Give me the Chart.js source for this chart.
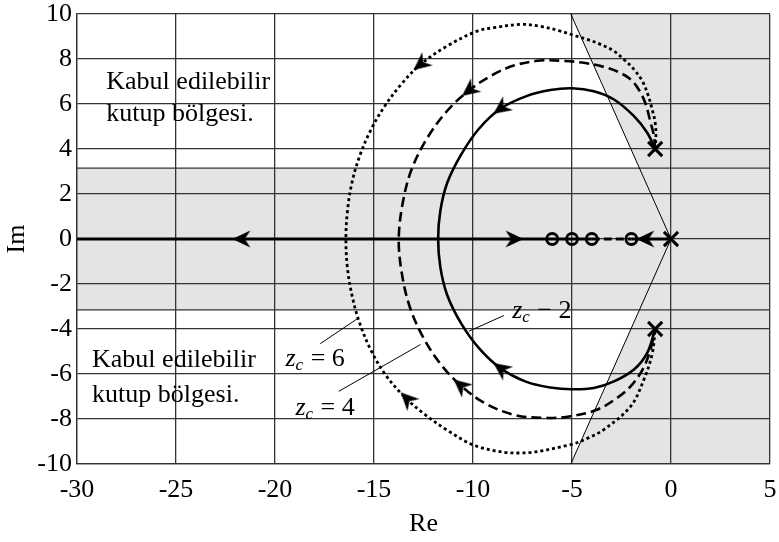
<!DOCTYPE html>
<html>
<head>
<meta charset="utf-8">
<script src="https://cdn.jsdelivr.net/npm/chart.js@4.4.1/dist/chart.umd.min.js"></script>
<style>
  html, body { margin: 0; padding: 0; background: #fff; }
</style>
</head>
<body>
<canvas id="kokYeri" width="779" height="542"></canvas>
<script>
// eksenler
const xTikler = [-30, -25, -20, -15, -10, -5, 0, 5];
const yTikler = [-10, -8, -6, -4, -2, 0, 2, 4, 6, 8, 10];

// kabul edilemez bolge (gri) ve sinir cizgileri
const bantIm = 3.15;
const golgeRe = [-30, -1.594, -5.06, 5, 5, -5.06, -1.594, -30];
const golgeIm = [3.15, 3.15, 10, 10, -10, -10, -3.15, -3.15];
const caprazRe = [-5.06, 0, -5.06];
const caprazIm = [10, 0, -10];

// kutuplar ve sifirlar
const kutupRe = [0, -0.8, -0.8];
const kutupIm = [0, 4, -4];
const sifirRe = [-6, -5, -4, -2];
const sifirIm = [0, 0, 0, 0];

// zc = 2 (duz)
const zc2Re = [-0.8, -1.2, -1.87, -2.88, -3.9, -5.0, -6.1, -7.3, -8.6, -9.7, -10.6, -11.3, -11.65, -11.76,
               -11.65, -11.3, -10.6, -9.7, -8.6, -7.3, -6.1, -5.0, -3.9, -2.88, -1.87, -1.2, -0.8];
const zc2Im = [4.0, 4.72, 5.46, 6.2, 6.57, 6.7, 6.62, 6.35, 5.8, 4.9, 3.75, 2.5, 1.25, 0,
               -1.25, -2.5, -3.75, -4.85, -5.75, -6.35, -6.6, -6.68, -6.62, -6.33, -5.8, -5.06, -4.0];

// zc = 4 (kesikli)
const zc4Re = [-0.8, -0.86, -1.03, -1.28, -1.6, -2.05, -2.65, -3.4, -4.4, -5.5, -6.6, -7.9, -9.1, -10.2, -11.3, -12.3, -13.1, -13.55, -13.75,
               -13.6, -13.2, -12.5, -11.6, -10.63, -9.4, -7.9, -6.4, -5.07, -3.72, -2.7, -2.04, -1.4, -1.0, -0.8];
const zc4Im = [4.0, 4.57, 5.17, 6.0, 6.6, 7.1, 7.42, 7.65, 7.83, 7.92, 7.93, 7.72, 7.25, 6.6, 5.7, 4.5, 3.1, 1.6, 0,
               -1.5, -3.0, -4.4, -5.6, -6.5, -7.3, -7.82, -7.95, -7.88, -7.58, -7.05, -6.55, -5.75, -4.8, -4.0];

// zc = 6 (noktali)
const zc6Re = [-0.8, -0.76, -0.8, -0.95, -1.17, -1.45, -1.87, -2.38, -2.88, -3.56, -4.23, -4.91, -5.58, -6.6, -7.6, -8.95, -9.79,
               -11.3, -12.65, -13.63, -14.48, -15.18, -15.73, -16.12, -16.34, -16.42,
               -16.34, -16.1, -15.72, -15.15, -14.45, -13.5, -12.5, -11.3, -9.79, -7.6, -5.07, -4.2, -3.39, -2.04, -1.37, -0.94, -0.8];
const zc6Im = [4.0, 4.57, 5.17, 5.76, 6.43, 7.02, 7.54, 7.98, 8.35, 8.65, 8.87, 9.05, 9.24, 9.45, 9.54, 9.39, 9.24,
               8.58, 7.76, 6.87, 5.88, 4.81, 3.67, 2.48, 1.25, 0,
               -1.3, -2.55, -3.75, -4.95, -6.0, -6.98, -7.75, -8.5, -9.22, -9.51, -9.14, -8.85, -8.47, -7.44, -6.25, -5.06, -4.0];

// gercek eksen uzerindeki dallar
const eksenDuzRe = [-30, -4];
const eksenKesikRe = [-4, -2];
const eksenSagRe = [-2, 0];

// ok uclari (aci: 0 yukari, 90 sag, 180 asagi, 270 sol)
const okRe = [-21.7, -7.9, -1.3, -8.6, -8.6, -10.2, -10.63, -12.65, -13.33];
const okIm = [0, 0, 0, 5.8, -5.75, 6.6, -6.5, 7.76, -7.1];
const okAci = [270, 90, 270, 234, 306, 232, 310, 231, 315];

const nokta = (xs, ys) => xs.map((v, i) => ({x: v, y: ys[i]}));
const yatay = (xs, yv) => xs.map(v => ({x: v, y: yv}));

function okUcu() {
  const c = document.createElement('canvas');
  c.width = 20; c.height = 20;
  const g = c.getContext('2d');
  g.fillStyle = '#000';
  g.beginPath();
  g.moveTo(10, 1); g.lineTo(18.5, 19); g.lineTo(10, 13.5); g.lineTo(1.5, 19);
  g.closePath();
  g.fill();
  return c;
}

const SERIF = '"Liberation Serif", "Times New Roman", serif';
const PUNTO = 26;

const griBolge = {
  id: 'griBolge',
  beforeDraw(chart) {
    const {ctx, chartArea: a, scales: {x, y}} = chart;
    ctx.save();
    ctx.beginPath();
    ctx.rect(a.left, a.top, a.right - a.left, a.bottom - a.top);
    ctx.clip();
    ctx.fillStyle = '#e4e4e4';
    ctx.beginPath();
    golgeRe.forEach((v, i) => {
      const px = x.getPixelForValue(v), py = y.getPixelForValue(golgeIm[i]);
      if (i === 0) ctx.moveTo(px, py); else ctx.lineTo(px, py);
    });
    ctx.closePath();
    ctx.fill();
    ctx.restore();
  }
};

function zcYaz(ctx, px, py, deger) {
  ctx.font = 'italic ' + PUNTO + 'px ' + SERIF;
  ctx.fillText('z', px, py);
  let w = ctx.measureText('z').width;
  ctx.font = 'italic 17px ' + SERIF;
  ctx.fillText('c', px + w, py + 4);
  w += ctx.measureText('c').width;
  ctx.font = PUNTO + 'px ' + SERIF;
  ctx.fillText(deger, px + w + 1, py);
}

const yazilar = {
  id: 'yazilar',
  afterDatasetsDraw(chart) {
    const {ctx, scales: {x, y}} = chart;
    const X = v => x.getPixelForValue(v), Y = v => y.getPixelForValue(v);
    ctx.save();
    ctx.fillStyle = '#000';
    ctx.strokeStyle = '#000';
    ctx.lineWidth = 1;
    ctx.textBaseline = 'alphabetic';
    ctx.font = PUNTO + 'px ' + SERIF;
    ctx.fillText('Kabul edilebilir', X(-28.52), Y(6.65));
    ctx.fillText('kutup bölgesi.', X(-28.52), Y(5.24));
    ctx.fillText('Kabul edilebilir', X(-29.24), Y(-5.69));
    ctx.fillText('kutup bölgesi.', X(-29.24), Y(-7.26));

    // etiket cizgileri
    [[-17.71, -4.65, -15.85, -3.55], [-16.78, -6.77, -12.65, -4.69], [-8.44, -3.4, -10.21, -4.1]].forEach(l => {
      ctx.beginPath();
      ctx.moveTo(X(l[0]), Y(l[1]));
      ctx.lineTo(X(l[2]), Y(l[3]));
      ctx.stroke();
    });
    zcYaz(ctx, X(-19.47), Y(-5.66), ' = 6');
    zcYaz(ctx, X(-18.97), Y(-7.81), ' = 4');
    zcYaz(ctx, X(-8.02), Y(-3.49), ' \u2212 2');
    ctx.restore();
  }
};

const ciz = (data, ek) => Object.assign({
  data, showLine: true, borderColor: '#000', borderWidth: 2.6, pointRadius: 0,
  fill: false, tension: 0
}, ek);

const datasets = [
  ciz(yatay([-30, 5], bantIm), {borderColor: '#333', borderWidth: 1.3, order: 9}),
  ciz(yatay([-30, 5], -bantIm), {borderColor: '#333', borderWidth: 1.3, order: 9}),
  ciz(nokta(caprazRe, caprazIm), {borderWidth: 1, order: 8}),
  ciz(yatay(eksenDuzRe, 0), {borderWidth: 3, order: 5}),
  ciz(yatay(eksenKesikRe, 0), {borderWidth: 3, borderDash: [8, 4], order: 5}),
  ciz(yatay(eksenSagRe, 0), {borderWidth: 3, order: 5}),
  ciz(nokta(zc2Re, zc2Im), {tension: 0.35, order: 4}),
  ciz(nokta(zc4Re, zc4Im), {tension: 0.35, borderDash: [10, 5], order: 4}),
  ciz(nokta(zc6Re, zc6Im), {tension: 0.35, borderDash: [3, 3], borderWidth: 2.8, order: 4}),
  {
    data: nokta(okRe, okIm), showLine: false, pointStyle: okUcu(), pointRotation: okAci,
    pointRadius: 10, order: 2
  },
  {
    data: nokta(sifirRe, sifirIm), showLine: false, pointStyle: 'circle', pointRadius: 5.5,
    pointBorderWidth: 2.8, pointBorderColor: '#000', pointBackgroundColor: 'rgba(0,0,0,0)', order: 1
  },
  {
    data: nokta(kutupRe, kutupIm), showLine: false, pointStyle: 'crossRot', pointRadius: 10,
    pointBorderWidth: 3, pointBorderColor: '#000', order: 0
  }
];

const sifirPad = s => { s.paddingLeft = 0; s.paddingRight = 0; s.paddingTop = 0; s.paddingBottom = 0; };

new Chart(document.getElementById('kokYeri'), {
  type: 'scatter',
  data: {datasets},
  plugins: [griBolge, yazilar],
  options: {
    responsive: false,
    animation: false,
    events: [],
    layout: {autoPadding: false, padding: {top: 14, right: 9, left: 0, bottom: 0}},
    plugins: {legend: {display: false}, tooltip: {enabled: false}},
    scales: {
      x: {
        type: 'linear', min: -30, max: 5,
        afterBuildTicks: s => { s.ticks = xTikler.map(v => ({value: v})); },
        afterFit: s => { s.height = 78; sifirPad(s); },
        grid: {color: '#333', lineWidth: 1.3, drawTicks: false},
        border: {color: '#333', width: 1.3},
        ticks: {color: '#000', padding: 11, font: {family: SERIF, size: PUNTO}},
        title: {display: true, text: 'Re', color: '#000', padding: {top: 0, bottom: 2}, font: {family: SERIF, size: PUNTO}}
      },
      y: {
        type: 'linear', min: -10, max: 10,
        afterBuildTicks: s => { s.ticks = yTikler.map(v => ({value: v})); },
        afterFit: s => { s.width = 77; sifirPad(s); },
        grid: {color: '#333', lineWidth: 1.3, drawTicks: false},
        border: {color: '#333', width: 1.3},
        ticks: {color: '#000', padding: 5, font: {family: SERIF, size: PUNTO}},
        title: {display: true, text: 'Im', color: '#000', padding: {top: 2, bottom: 0}, font: {family: SERIF, size: PUNTO}}
      }
    }
  }
});
</script>
</body>
</html>
